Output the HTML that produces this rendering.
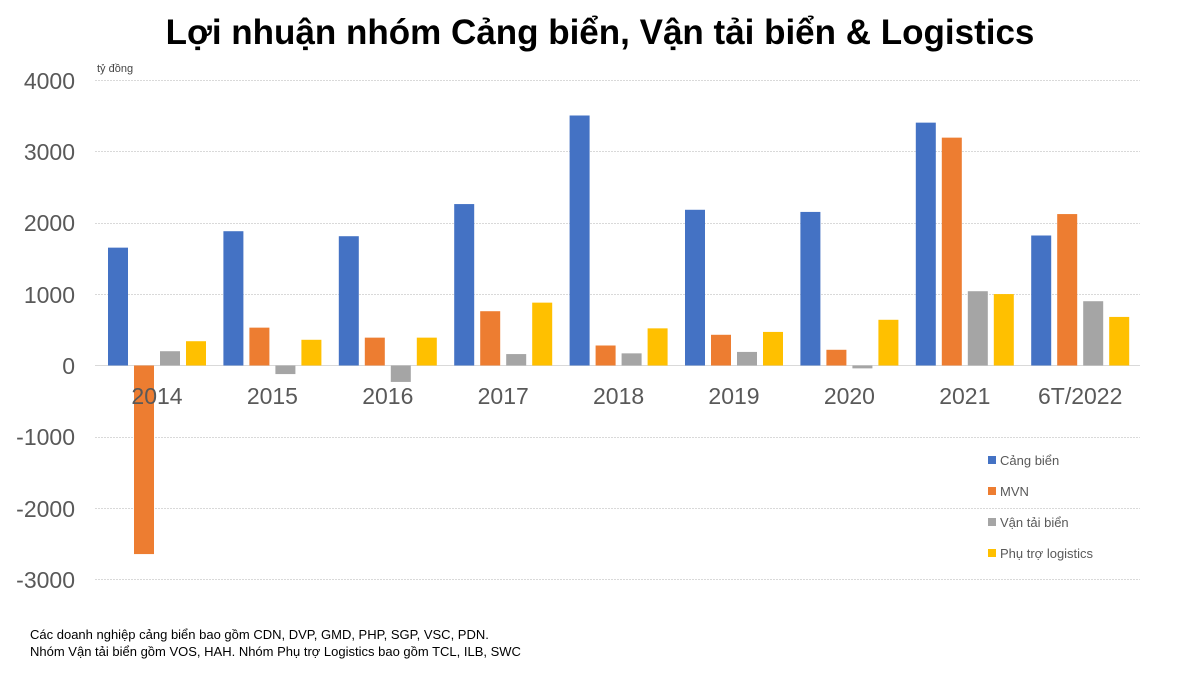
<!DOCTYPE html>
<html><head><meta charset="utf-8"><style>
body{margin:0;background:#fff;width:1200px;height:675px;overflow:hidden;font-family:"Liberation Sans",Arial,sans-serif}
</style></head><body>
<svg width="1200" height="675" xmlns="http://www.w3.org/2000/svg" font-family="Liberation Sans, Arial, sans-serif">
<text x="600" y="44" text-anchor="middle" font-size="35" font-weight="bold" fill="#000">Lợi nhuận nhóm Cảng biển, Vận tải biển &amp; Logistics</text>
<text x="97" y="72" font-size="11" fill="#444">tỷ đồng</text>
<g stroke="#d9d9d9" stroke-width="1" stroke-dasharray="2,1">
<line x1="95" x2="1140" y1="80.5" y2="80.5"/><line x1="95" x2="1140" y1="151.5" y2="151.5"/>
<line x1="95" x2="1140" y1="223.5" y2="223.5"/><line x1="95" x2="1140" y1="294.5" y2="294.5"/>
<line x1="95" x2="1140" y1="437.5" y2="437.5"/><line x1="95" x2="1140" y1="508.5" y2="508.5"/>
<line x1="95" x2="1140" y1="579.5" y2="579.5"/>
</g>
<line x1="95" x2="1140" y1="365.5" y2="365.5" stroke="#d9d9d9"/>
<g font-size="23" fill="#595959" text-anchor="end">
<text x="75" y="89">4000</text><text x="75" y="160">3000</text><text x="75" y="231">2000</text>
<text x="75" y="303">1000</text><text x="75" y="374">0</text><text x="75" y="445">-1000</text>
<text x="75" y="517">-2000</text><text x="75" y="588">-3000</text>
</g>
<g id="bars"></g>
<g font-size="23" fill="#595959" text-anchor="middle" id="xl"></g>
<g font-size="13" fill="#595959">
<rect x="988" y="456" width="8" height="8" fill="#4472c4"/><text x="1000" y="465">Cảng biển</text>
<rect x="988" y="487" width="8" height="8" fill="#ed7d31"/><text x="1000" y="496">MVN</text>
<rect x="988" y="518" width="8" height="8" fill="#a5a5a5"/><text x="1000" y="527">Vận tải biển</text>
<rect x="988" y="549" width="8" height="8" fill="#ffc000"/><text x="1000" y="558">Phụ trợ logistics</text>
</g>
<g font-size="13" fill="#000">
<text x="30" y="639">Các doanh nghiệp cảng biển bao gồm CDN, DVP, GMD, PHP, SGP, VSC, PDN.</text>
<text x="30" y="656">Nhóm Vận tải biển gồm VOS, HAH. Nhóm Phụ trợ Logistics bao gồm TCL, ILB, SWC</text>
</g>
</svg>
<script>
var d=[["2014",1650,-2640,200,340],["2015",1880,530,-120,360],["2016",1810,390,-230,390],["2017",2260,760,160,880],["2018",3500,280,170,520],["2019",2180,430,190,470],["2020",2150,220,-40,640],["2021",3400,3190,1040,1000],["6T/2022",1820,2120,900,680]];
var c=["#4472c4","#ed7d31","#a5a5a5","#ffc000"],o=[-39,-13,13,39],s="",t="",k=0.07143,z=365.5;
d.forEach(function(r,i){var cx=157+i*115.4;
for(var j=0;j<4;j++){var v=r[j+1],h=Math.abs(v)*k,y=v>=0?z-h:z;
s+='<rect x="'+(cx+o[j]-10)+'" y="'+y+'" width="20" height="'+h+'" fill="'+c[j]+'"/>';}
t+='<text x="'+cx+'" y="404">'+r[0]+'</text>';});
document.getElementById("bars").innerHTML=s;document.getElementById("xl").innerHTML=t;
</script>
</body></html>
